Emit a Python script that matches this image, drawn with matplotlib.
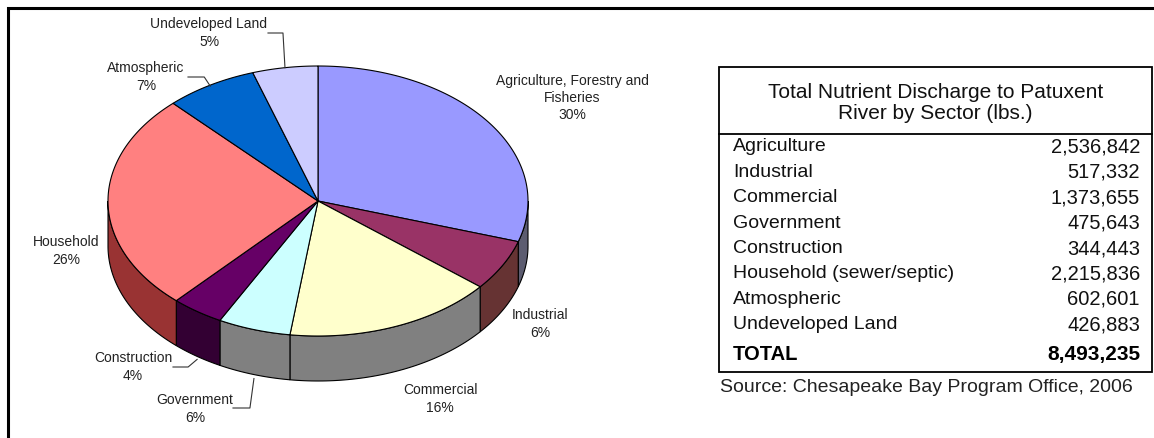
import numpy as np
import matplotlib.pyplot as plt
from matplotlib.patches import Polygon, Rectangle

# data from the table (lbs.)
sectors = ['Agriculture', 'Industrial', 'Commercial', 'Government', 'Construction',
           'Household (sewer/septic)', 'Atmospheric', 'Undeveloped Land']
discharge = [2536842, 517332, 1373655, 475643, 344443, 2215836, 602601, 426883]
pie_labels = ['Agriculture, Forestry and\nFisheries', 'Industrial', 'Commercial', 'Government',
              'Construction', 'Household', 'Atmospheric', 'Undeveloped Land']
top_colors = ['#9999FF', '#993366', '#FFFFCC', '#CCFFFF', '#660066', '#FF8080', '#0066CC', '#CCCCFF']
side_colors = ['#5C5C70', '#663333', '#808080', '#808080', '#330033', '#993333', '#003366', '#666680']

table_title = 'Total Nutrient Discharge to Patuxent\nRiver by Sector (lbs.)'
source = 'Source: Chesapeake Bay Program Office, 2006'

W, H = 1154, 439
fig = plt.figure(figsize=(W / 100, H / 100), dpi=100)
ax = fig.add_axes([0, 0, 1, 1])
ax.set_xlim(0, W)
ax.set_ylim(H, 0)
ax.axis('off')

lab_font = ['Liberation Sans Narrow', 'Liberation Sans', 'DejaVu Sans']
tab_font = ['Liberation Sans', 'DejaVu Sans']

# outer frame (left and top only are visible)
ax.plot([8, 8, W + 5], [H + 5, 9, 9], color='black', lw=2.2, solid_joinstyle='miter')

# pie geometry (pixels)
cx, cy, a, b, depth = 318, 202, 210, 135, 45


def pt(theta, dy=0):
    t = np.radians(theta)
    return np.column_stack([cx + a * np.cos(t), cy - b * np.sin(t) + dy])


vals = np.array(discharge, dtype=float)
frac = vals / vals.sum()
ends = 90 - 360 * np.cumsum(frac)
starts = np.concatenate([[90], ends[:-1]])

# side walls on the front half
for s, e, col in zip(starts, ends, side_colors):
    lo, hi = max(e, -180), min(s, 0)
    if hi <= lo:
        continue
    th = np.linspace(hi, lo, 60)
    poly = np.vstack([pt(th), pt(th[::-1], depth)])
    ax.add_patch(Polygon(poly, closed=True, fc=col, ec='black', lw=0.8))

# top face
for s, e, col in zip(starts, ends, top_colors):
    th = np.linspace(s, e, 120)
    poly = np.vstack([[cx, cy], pt(th)])
    ax.add_patch(Polygon(poly, closed=True, fc=col, ec='black', lw=0.8))

# labels
pct = np.round(frac * 100).astype(int)
label_pos = [(572, 98), (540, 324), (440, 399), (195, 409), (133, 367), (66, 251), (146, 77), (209, 33)]
for lab, p, (x, y) in zip(pie_labels, pct, label_pos):
    ax.text(x, y, f'{lab}\n{p}%', ha='center', va='center', fontsize=10,
            family=lab_font, color='#222222', linespacing=1.3)

# leader lines for small slices: (slice, start x, line y, elbow dx, drop to side bottom, extra dy)
mids = (starts + ends) / 2
leaders = [(7, 268, 34, -2, 0, 0), (6, 188, 78, -6, 0, 1),
           (4, 173, 368, -9, depth, 3), (3, 233, 409, -4, depth, 4)]
for i, sx, ly, edx, dd, extra in leaders:
    px, py = pt(mids[i], dd + extra)[0]
    ax.plot([sx, px + edx, px], [ly, ly, py], color='#333333', lw=0.8)

# table
tx0, tx1, ty0, ty1, hy = 719, 1152, 68, 373, 135
ax.add_patch(Rectangle((tx0, ty0), tx1 - tx0, ty1 - ty0, fill=False, ec='black', lw=1.3))
ax.plot([tx0, tx1], [hy, hy], color='black', lw=1.3)
ax.text((tx0 + tx1) / 2, 103, table_title, ha='center', va='center', fontsize=15,
        family=tab_font, linespacing=1.1, color='#111111')
row_y = 147
for name, v in zip(sectors, discharge):
    ax.text(733, row_y, name, ha='left', va='center', fontsize=14, family=tab_font, color='#111111')
    ax.text(1140, row_y, f'{v:,}', ha='right', va='center', fontsize=14.5, family=tab_font, color='#111111')
    row_y += 25.4
ax.text(733, 355, 'TOTAL', ha='left', va='center', fontsize=14.5, family=tab_font, weight='bold')
ax.text(1140, 355, f'{sum(discharge):,}', ha='right', va='center', fontsize=15,
        family=tab_font, weight='bold')
ax.text(720, 388, source, ha='left', va='center', fontsize=14, family=tab_font, color='#222222')

fig.savefig('out.png', dpi=100)
